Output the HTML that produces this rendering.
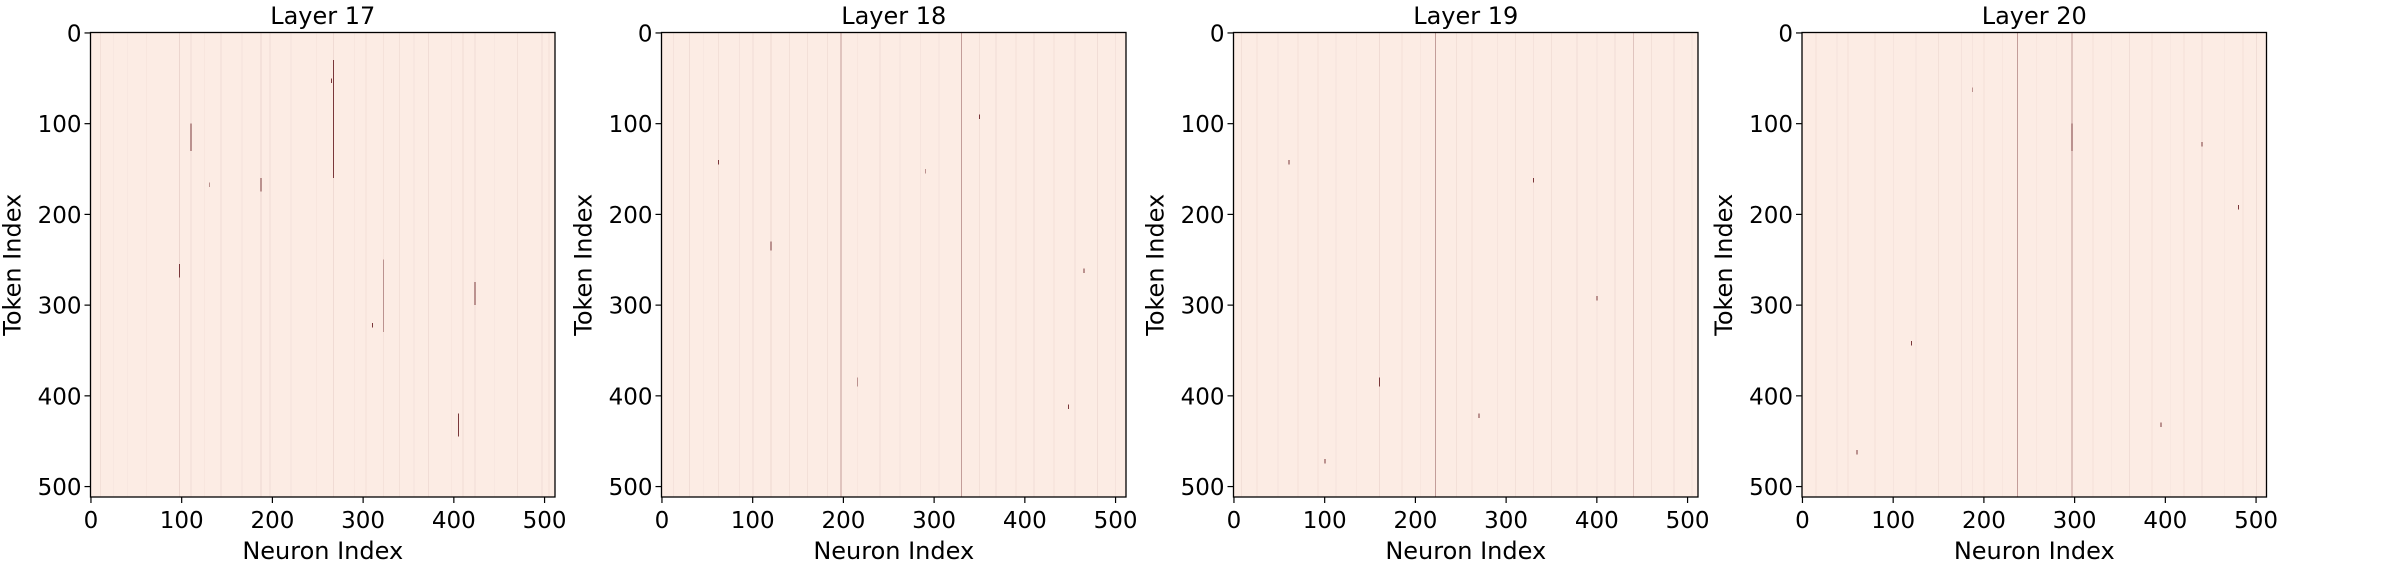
<!DOCTYPE html>
<html><head><meta charset="utf-8">
<style>
html,body{margin:0;padding:0;background:#fff;}
#wrap{position:relative;width:2400px;height:566px;overflow:hidden;font-family:"DejaVu Sans","Liberation Sans",sans-serif;}
canvas{position:absolute;image-rendering:pixelated;}
svg{position:absolute;left:0;top:0;}
</style></head>
<body>
<div id="wrap">
<svg id="ax" width="2400" height="566" font-family="DejaVu Sans, Liberation Sans, sans-serif"></svg>
</div>
<script>
// ---- data ----
const layerNames = ["Layer 17","Layer 18","Layer 19","Layer 20"];
const tickValues = [0,100,200,300,400,500];
const nTokens = 512, nNeurons = 512;
// vertical stripe neurons per layer and their strength (0..1)
const stripeCols17 = [10,24,40,61,97,110,125,143,166,187,197,220,248,267,290,303,322,340,356,372,397,410,423,445,470,497,505];
const stripeStr17  = [.25,.2,.2,.25,.45,.3,.25,.3,.2,.45,.3,.2,.25,.35,.25,.25,.4,.25,.2,.3,.25,.35,.3,.2,.25,.3,.25];
const stripeCols18 = [12,30,45,62,85,100,120,140,160,182,197,215,240,262,285,305,330,350,368,390,410,432,455,480,500];
const stripeStr18  = [.2,.3,.2,.25,.2,.3,.4,.25,.25,.25,.6,.25,.3,.2,.3,.2,.55,.25,.3,.25,.3,.25,.3,.3,.2];
const stripeCols19 = [8,25,48,70,92,112,135,160,185,205,222,245,262,290,310,330,350,378,400,420,440,460,485,505];
const stripeStr19  = [.25,.25,.2,.25,.25,.2,.25,.35,.25,.25,.5,.25,.25,.3,.25,.2,.25,.3,.2,.3,.45,.25,.3,.2];
const stripeCols20 = [15,38,50,80,100,125,150,175,187,200,220,237,258,280,297,320,340,360,385,405,420,440,465,485,500];
const stripeStr20  = [.25,.2,.25,.25,.3,.2,.25,.2,.3,.25,.25,.55,.25,.2,.5,.25,.2,.3,.25,.2,.25,.3,.2,.25,.3];
// dark segments: [neuron, tokenStart, tokenEnd]
const darkSeg17 = [[267,30,160],[97,255,270],[187,160,175],[110,100,130],[322,250,330],[423,275,300],[405,420,445],[130,165,170],[310,320,325],[265,50,55]];
const darkSeg18 = [[197,0,512],[330,0,512],[120,230,240],[62,140,145],[448,410,415],[215,380,390],[290,150,155],[465,260,265],[350,90,95]];
const darkSeg19 = [[222,0,512],[440,0,512],[160,380,390],[330,160,165],[270,420,425],[60,140,145],[400,290,295],[100,470,475]];
const darkSeg20 = [[237,0,512],[297,0,512],[297,100,130],[187,60,65],[480,190,195],[120,340,345],[395,430,435],[60,460,465],[440,120,125]];

const layers = [
  {name:layerNames[0], cols:stripeCols17, str:stripeStr17, dark:darkSeg17, left:90.5},
  {name:layerNames[1], cols:stripeCols18, str:stripeStr18, dark:darkSeg18, left:661.5},
  {name:layerNames[2], cols:stripeCols19, str:stripeStr19, dark:darkSeg19, left:1233.5},
  {name:layerNames[3], cols:stripeCols20, str:stripeStr20, dark:darkSeg20, left:1802}
];
const TOP=32.5, SIZE=464.5;
const NS="http://www.w3.org/2000/svg";
const svg=document.getElementById('ax');
const wrap=document.getElementById('wrap');

function colorFor(v){ // Reds-like: 0 -> light, 1 -> dark red
  const a=[252,236,228], b=[90,10,15];
  return 'rgb('+a.map((c,i)=>Math.round(c+(b[i]-c)*v)).join(',')+')';
}
function mk(tag,attrs,parent){const e=document.createElementNS(NS,tag);for(const k in attrs)e.setAttribute(k,attrs[k]);(parent||svg).appendChild(e);return e;}

layers.forEach((L,li)=>{
  const xs=n=>L.left+(n+0.5)*SIZE/nNeurons;
  const ys=t=>TOP+(t+0.5)*SIZE/nTokens;
  const cv=document.createElement('canvas');
  
  
  cv.width=nNeurons; cv.height=nTokens;
  cv.style.left=L.left+'px'; cv.style.top=TOP+'px';
  cv.style.width=SIZE+'px'; cv.style.height=SIZE+'px';
  wrap.insertBefore(cv,svg);
  const g=cv.getContext('2d');
  g.fillStyle=colorFor(0); g.fillRect(0,0,nNeurons,nTokens);
  L.cols.forEach((c,i)=>{ g.fillStyle=colorFor(L.str[i]*0.22); g.fillRect(c,0,1,nTokens); });
  L.dark.forEach(d=>{ g.fillStyle=colorFor(d[2]-d[1]>400?0.35:0.8); g.fillRect(d[0],d[1],1,d[2]-d[1]); });

  const grp=mk('g',{});
  
  
  const fr=mk('rect',{x:L.left,y:TOP,width:SIZE,height:SIZE,fill:'none',stroke:'#000','stroke-width':1.3},grp);
  
  
  tickValues.forEach(v=>{
    const x=xs(v), y=ys(v);
    mk('line',{x1:x,x2:x,y1:TOP+SIZE,y2:TOP+SIZE+6,stroke:'#000','stroke-width':1.2},grp);
    const tx=mk('text',{x:x,y:TOP+SIZE+31,'text-anchor':'middle','font-size':23,fill:'#000'},grp);
    tx.textContent=v;
    
    
    mk('line',{x1:L.left-6,x2:L.left,y1:y,y2:y,stroke:'#000','stroke-width':1.2},grp);
    const ty=mk('text',{x:L.left-9,y:y+8.5,'text-anchor':'end','font-size':23,fill:'#000'},grp);
    ty.textContent=v;
    
    
  });
  const t=mk('text',{x:L.left+SIZE/2,y:24,'text-anchor':'middle','font-size':24,fill:'#000'},grp);
  t.textContent=L.name;
  
  
  const xl=mk('text',{x:L.left+SIZE/2,y:559,'text-anchor':'middle','font-size':24,fill:'#000'},grp);
  xl.textContent='Neuron Index';
  
  
  const cx=L.left-70, cy=TOP+SIZE/2;
  const yl=mk('text',{x:cx,y:cy,'text-anchor':'middle','font-size':24,fill:'#000',transform:'rotate(-90 '+cx+' '+cy+')'},grp);
  yl.textContent='Token Index';
  
  
});
</script>
</body></html>
